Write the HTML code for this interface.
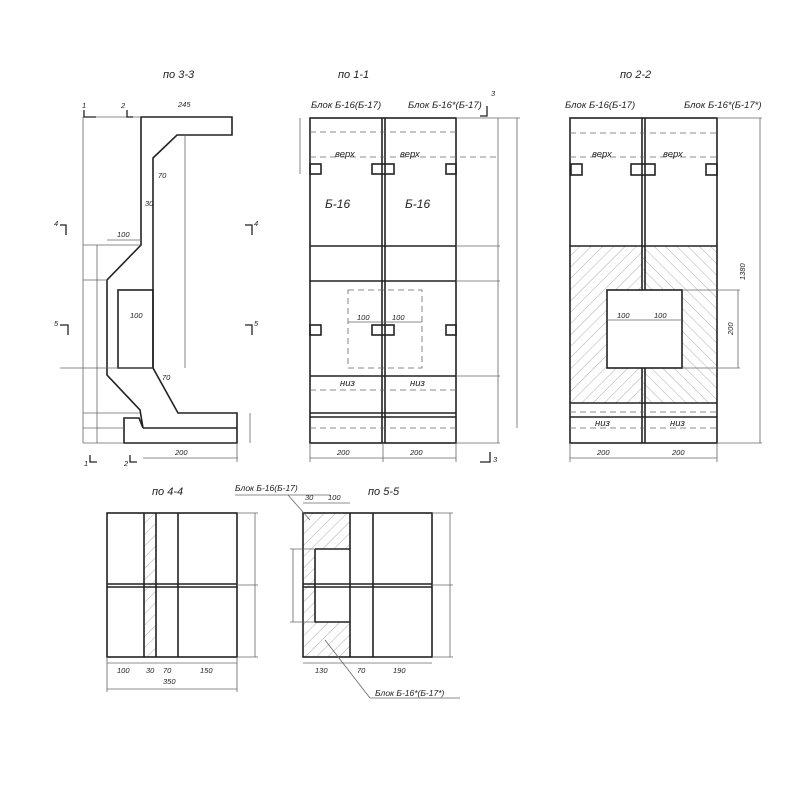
<!DOCTYPE html>
<html><head><meta charset="utf-8"><style>
html,body{margin:0;padding:0;background:#fff;width:800px;height:800px;overflow:hidden}
text{font-family:"Liberation Sans",sans-serif;font-style:italic;fill:#222}
</style></head><body>
<svg width="800" height="800" viewBox="0 0 800 800" xmlns="http://www.w3.org/2000/svg">
<defs>
<pattern id="h1" width="8" height="8" patternUnits="userSpaceOnUse" patternTransform="rotate(45)"><line x1="0" y1="0" x2="0" y2="8" stroke="#999" stroke-width="0.8"/></pattern>
<pattern id="h2" width="8" height="8" patternUnits="userSpaceOnUse" patternTransform="rotate(-45)"><line x1="0" y1="0" x2="0" y2="8" stroke="#999" stroke-width="0.8"/></pattern>
</defs>
<g fill="none" stroke="#222" stroke-width="1.6">
<path d="M141,117 L232,117 L232,135 L177,135 L153,158 L153,368 L178,413 L237,413 L237,443 L124,443 L124,418 L139,418 L143,428 L140,410 L107,375 L107,280 L141,245 Z"/>
<line x1="143" y1="428" x2="237" y2="428"/>
<rect x="118" y="290" width="35" height="78"/>
<rect x="310" y="118" width="146" height="325"/>
<line x1="382" y1="118" x2="382" y2="443"/><line x1="385" y1="118" x2="385" y2="443"/>
<line x1="310" y1="246" x2="456" y2="246"/><line x1="310" y1="281" x2="456" y2="281"/>
<line x1="310" y1="376" x2="456" y2="376"/><line x1="310" y1="413" x2="456" y2="413"/><line x1="310" y1="417" x2="456" y2="417"/>
<rect x="310" y="164" width="11" height="10"/><rect x="372" y="164" width="22" height="10"/><rect x="446" y="164" width="10" height="10"/>
<rect x="310" y="325" width="11" height="10"/><rect x="372" y="325" width="22" height="10"/><rect x="446" y="325" width="10" height="10"/>
<rect x="570" y="246" width="73" height="157" fill="url(#h1)" stroke="none"/>
<rect x="643" y="246" width="74" height="157" fill="url(#h2)" stroke="none"/>
<rect x="570" y="118" width="147" height="325"/>
<line x1="642" y1="118" x2="642" y2="443"/><line x1="645" y1="118" x2="645" y2="443"/>
<line x1="570" y1="246" x2="717" y2="246"/><line x1="570" y1="403" x2="717" y2="403"/><line x1="570" y1="417" x2="717" y2="417"/>
<rect x="607" y="290" width="75" height="78" fill="#fff"/>
<rect x="571" y="164" width="11" height="11"/><rect x="631" y="164" width="24" height="11"/><rect x="706" y="164" width="11" height="11"/>
<rect x="144" y="513" width="12" height="144" fill="url(#h1)" stroke="none"/>
<rect x="107" y="513" width="130" height="144"/>
<line x1="107" y1="584" x2="237" y2="584"/><line x1="107" y1="587" x2="237" y2="587"/>
<line x1="144" y1="513" x2="144" y2="657"/><line x1="156" y1="513" x2="156" y2="657"/><line x1="178" y1="513" x2="178" y2="657"/>
<path d="M303,513 H350 V549 H315 V622 H350 V657 H303 Z" fill="url(#h1)" stroke="none"/>
<rect x="303" y="513" width="129" height="144"/>
<line x1="303" y1="584" x2="432" y2="584"/><line x1="303" y1="587" x2="432" y2="587"/>
<line x1="350" y1="513" x2="350" y2="657"/><line x1="373" y1="513" x2="373" y2="657"/>
<path d="M315,549 H350 M315,549 V622 H350"/>
</g>
<g fill="none" stroke="#666" stroke-width="0.8">
<g stroke-dasharray="6,4">
<line x1="310" y1="132" x2="456" y2="132"/><line x1="310" y1="157" x2="498" y2="157"/>
<line x1="310" y1="390" x2="456" y2="390"/><line x1="310" y1="428" x2="456" y2="428"/>
<rect x="348" y="290" width="74" height="78"/>
<line x1="570" y1="133" x2="717" y2="133"/><line x1="570" y1="157" x2="717" y2="157"/>
<line x1="570" y1="412" x2="717" y2="412"/><line x1="570" y1="428" x2="717" y2="428"/>
</g>
<line x1="498" y1="118" x2="498" y2="443"/><line x1="517" y1="118" x2="517" y2="428"/>
<line x1="456" y1="118" x2="520" y2="118"/><line x1="456" y1="246" x2="500" y2="246"/><line x1="456" y1="281" x2="500" y2="281"/><line x1="456" y1="376" x2="500" y2="376"/><line x1="456" y1="443" x2="500" y2="443"/>
<line x1="310" y1="458" x2="456" y2="458"/><line x1="310" y1="443" x2="310" y2="462"/><line x1="383" y1="443" x2="383" y2="462"/><line x1="456" y1="443" x2="456" y2="462"/>
<line x1="300" y1="118" x2="300" y2="174"/>
<line x1="760" y1="118" x2="760" y2="443"/><line x1="717" y1="118" x2="762" y2="118"/><line x1="717" y1="443" x2="762" y2="443"/>
<line x1="738" y1="290" x2="738" y2="368"/><line x1="682" y1="290" x2="740" y2="290"/><line x1="682" y1="368" x2="740" y2="368"/>
<line x1="570" y1="458" x2="717" y2="458"/><line x1="570" y1="443" x2="570" y2="462"/><line x1="717" y1="443" x2="717" y2="462"/>
<line x1="607" y1="320" x2="682" y2="320"/><line x1="348" y1="322" x2="422" y2="322"/>
<line x1="83" y1="117" x2="83" y2="443"/><line x1="97" y1="245" x2="97" y2="443"/>
<line x1="83" y1="117" x2="141" y2="117"/><line x1="83" y1="245" x2="141" y2="245"/><line x1="83" y1="280" x2="107" y2="280"/><line x1="60" y1="368" x2="153" y2="368"/><line x1="83" y1="443" x2="124" y2="443"/><line x1="83" y1="413" x2="140" y2="413"/><line x1="83" y1="428" x2="124" y2="428"/>
<line x1="185" y1="135" x2="185" y2="368"/><line x1="143" y1="458" x2="238" y2="458"/><line x1="237" y1="443" x2="237" y2="462"/>
<line x1="250" y1="413" x2="250" y2="443"/><line x1="107" y1="240" x2="141" y2="240"/>
<line x1="255" y1="513" x2="255" y2="657"/><line x1="237" y1="513" x2="258" y2="513"/><line x1="237" y1="585" x2="258" y2="585"/><line x1="237" y1="657" x2="258" y2="657"/>
<line x1="107" y1="663" x2="237" y2="663"/><line x1="107" y1="689" x2="237" y2="689"/><line x1="107" y1="657" x2="107" y2="692"/><line x1="237" y1="657" x2="237" y2="692"/>
<line x1="450" y1="513" x2="450" y2="657"/><line x1="432" y1="513" x2="453" y2="513"/><line x1="432" y1="585" x2="453" y2="585"/><line x1="432" y1="657" x2="453" y2="657"/>
<line x1="293" y1="549" x2="293" y2="622"/><line x1="290" y1="549" x2="315" y2="549"/><line x1="290" y1="622" x2="315" y2="622"/>
<line x1="303" y1="663" x2="432" y2="663"/><line x1="303" y1="503" x2="350" y2="503"/>
<line x1="235" y1="495" x2="330" y2="495"/><line x1="288" y1="495" x2="310" y2="520"/>
<line x1="325" y1="640" x2="370" y2="698"/><line x1="370" y1="698" x2="460" y2="698"/>
</g>
<g stroke="#222" stroke-width="1.3" fill="none">
<path d="M84,110 V117 H96"/><path d="M127,110 V117 H133"/><path d="M60,225 H66 V235"/><path d="M245,225 H252 V235"/>
<path d="M60,325 H68 V335"/><path d="M245,325 H252 V335"/><path d="M90,455 V462 H97"/><path d="M130,455 V462 H137"/>
<path d="M480,116 H487 V106"/><path d="M480,462 H490 V452"/>
</g>
<g font-size="11">
<text x="163" y="78">по 3-3</text><text x="338" y="78">по 1-1</text><text x="620" y="78">по 2-2</text>
<text x="152" y="495">по 4-4</text><text x="368" y="495">по 5-5</text>
</g>
<g font-size="9.5">
<text x="311" y="108">Блок Б-16(Б-17)</text><text x="408" y="108">Блок Б-16*(Б-17)</text>
<text x="565" y="108">Блок Б-16(Б-17)</text><text x="684" y="108">Блок Б-16*(Б-17*)</text>
<text x="325" y="208" font-size="12">Б-16</text><text x="405" y="208" font-size="12">Б-16</text>
<text x="335" y="157">верх</text><text x="400" y="157">верх</text>
<text x="592" y="157">верх</text><text x="663" y="157">верх</text>
<text x="340" y="386">низ</text><text x="410" y="386">низ</text>
<text x="595" y="426">низ</text><text x="670" y="426">низ</text>
<text x="235" y="491" font-size="8.5">Блок Б-16(Б-17)</text><text x="375" y="696" font-size="8.5">Блок Б-16*(Б-17*)</text>
</g>
<g font-size="7.5">
<text x="178" y="107">245</text><text x="130" y="318">100</text>
<text x="357" y="320">100</text><text x="392" y="320">100</text><text x="617" y="318">100</text><text x="654" y="318">100</text>
<text x="337" y="455">200</text><text x="410" y="455">200</text><text x="597" y="455">200</text><text x="672" y="455">200</text>
<text x="175" y="455">200</text><text x="117" y="673">100</text><text x="146" y="673">30</text><text x="163" y="673">70</text><text x="200" y="673">150</text>
<text x="163" y="684">350</text><text x="315" y="673">130</text><text x="357" y="673">70</text><text x="393" y="673">190</text>
<text x="305" y="500">30</text><text x="328" y="500">100</text>
<text x="117" y="237">100</text><text x="158" y="178">70</text><text x="162" y="380">70</text>
<text x="145" y="206">30</text><text x="491" y="96">3</text><text x="493" y="462">3</text>
<text x="82" y="108">1</text><text x="121" y="108">2</text><text x="54" y="226">4</text><text x="254" y="226">4</text>
<text x="54" y="326">5</text><text x="254" y="326">5</text><text x="84" y="466">1</text><text x="124" y="466">2</text>
<text x="745" y="280" transform="rotate(-90 745 280)">1380</text>
<text x="733" y="335" transform="rotate(-90 733 335)">200</text>
</g>
</svg>
</body></html>
